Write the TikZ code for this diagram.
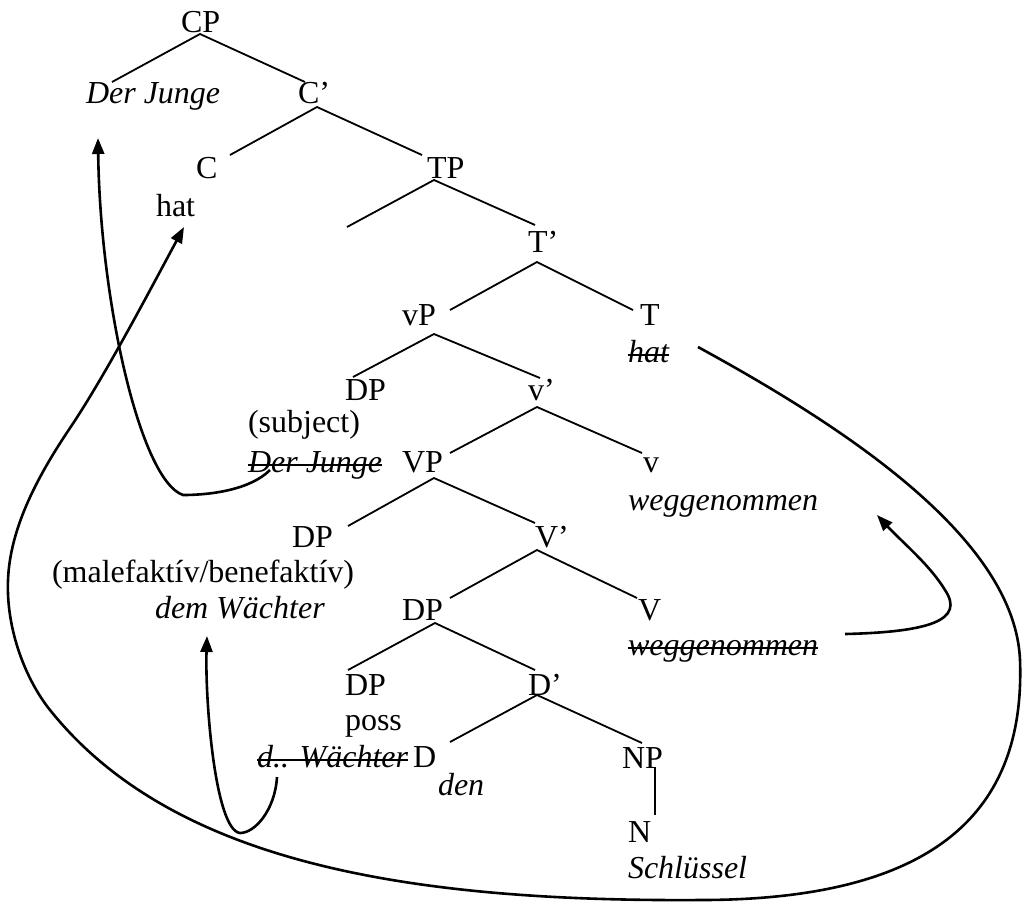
\documentclass[tikz,border=0pt]{standalone}
\usepackage{fontspec}
\setmainfont{Liberation Serif}
\usetikzlibrary{arrows.meta,calc}

\begin{document}
\begin{tikzpicture}[x=0.5pt, y=-0.5pt,
  font=\fontsize{16}{19}\selectfont,
  lbl/.style={inner sep=0pt, outer sep=0pt, anchor=base west},
  it/.style={lbl, font=\fontsize{16}{19}\selectfont\itshape},
  branch/.style={line width=0.9pt},
  strike/.style={line width=0.95pt},
  move/.style={line width=1.3pt, -{Triangle[length=8pt, width=6pt]}}]

\useasboundingbox (0,0) rectangle (1022,902);

% a horizontal stroke through a node's text, a little above its baseline
\newcommand\strikenode[1]{%
  \draw[strike] ($(#1.base west)+(0,-7)$) -- ($(#1.base east)+(0,-7)$);}

% ---- labels of the tree ----
\node[lbl] (CP)    at (181,32)  {CP};
\node[it]  (spec)  at (86,103)  {Der Junge};
\node[lbl] (Cbar)  at (298,103) {C’};
\node[lbl] (C)     at (196,178) {C};
\node[lbl] (TP)    at (427,178) {TP};
\node[lbl] (hat)   at (156,216) {hat};
\node[lbl] (Tbar)  at (528,252) {T’};
\node[lbl] (vP)    at (402,325) {vP};
\node[lbl] (T)     at (640,325) {T};
\node[it]  (hatT)  at (628,362) {hat};
\node[lbl] (DPs)   at (345,400) {DP};
\node[lbl] (vbar)  at (528,400) {v’};
\node[lbl] (subj)  at (248,432) {(subject)};
\node[it]  (subjT) at (248,472) {Der Junge};
\node[lbl] (VP)    at (402,472) {VP};
\node[lbl] (v)     at (643,472) {v};
\node[it]  (wegv)  at (628,510) {weggenommen};
\node[lbl] (DPm)   at (292,547) {DP};
\node[lbl] (Vbar)  at (535,547) {V’};
\node[lbl] (male)  at (52,582)  {(malefaktív/benefaktív)};
\node[it]  (dem)   at (155,618) {dem Wächter};
\node[lbl] (DPo)   at (402,620) {DP};
\node[lbl] (V)     at (638,620) {V};
\node[it]  (wegT)  at (628,655) {weggenommen};
\node[lbl] (DPp)   at (345,695) {DP};
\node[lbl] (Dbar)  at (528,695) {D’};
\node[lbl] (poss)  at (345,730) {poss};
\node[it]  (possT) at (257,767) {d.. Wächter};
\node[lbl] (D)     at (413,767) {D};
\node[lbl] (NP)    at (622,768) {NP};
\node[it]  (den)   at (438,795) {den};
\node[lbl] (N)     at (628,842) {N};
\node[it]  (key)   at (628,878) {Schlüssel};

% struck-out copies left behind by movement
\strikenode{hatT}
\strikenode{subjT}
\strikenode{wegT}
\strikenode{possT}

% ---- branch end points ----
\coordinate (CP-b)   at (200,34);
\coordinate (spec-t) at (112,82);
\coordinate (Cbar-t) at (305,82);
\coordinate (Cbar-b) at (317,107);
\coordinate (C-t)    at (230,155);
\coordinate (TP-t)   at (422,155);
\coordinate (TP-b)   at (434,180);
\coordinate (specT)  at (347,227);
\coordinate (Tbar-t) at (535,225);
\coordinate (Tbar-b) at (537,262);
\coordinate (vP-t)   at (450,310);
\coordinate (T-t)    at (633,310);
\coordinate (vP-b)   at (434,334);
\coordinate (DPs-t)  at (353,377);
\coordinate (vbar-t) at (540,378);
\coordinate (vbar-b) at (537,407);
\coordinate (VP-t)   at (450,453);
\coordinate (v-t)    at (642,453);
\coordinate (VP-b)   at (434,478);
\coordinate (DPm-t)  at (348,526);
\coordinate (Vbar-t) at (535,523);
\coordinate (Vbar-b) at (537,550);
\coordinate (DPo-t)  at (450,598);
\coordinate (V-t)    at (637,598);
\coordinate (DPo-b)  at (435,623);
\coordinate (DPp-t)  at (348,670);
\coordinate (Dbar-t) at (535,670);
\coordinate (Dbar-b) at (537,695);
\coordinate (D-t)    at (450,742);
\coordinate (NP-t)   at (642,743);
\coordinate (NP-b)   at (655,767);
\coordinate (N-t)    at (655,815);

% ---- branches ----
\draw[branch] (spec-t) -- (CP-b) -- (Cbar-t);
\draw[branch] (C-t) -- (Cbar-b) -- (TP-t);
\draw[branch] (specT) -- (TP-b) -- (Tbar-t);
\draw[branch] (vP-t) -- (Tbar-b) -- (T-t);
\draw[branch] (DPs-t) -- (vP-b) -- (vbar-t);
\draw[branch] (VP-t) -- (vbar-b) -- (v-t);
\draw[branch] (DPm-t) -- (VP-b) -- (Vbar-t);
\draw[branch] (DPo-t) -- (Vbar-b) -- (V-t);
\draw[branch] (DPp-t) -- (DPo-b) -- (Dbar-t);
\draw[branch] (D-t) -- (Dbar-b) -- (NP-t);
\draw[branch] (NP-b) -- (N-t);

% ---- movement arrows ----
% subject: Spec,vP -> Spec,CP
\coordinate (m1s) at (270,470);
\coordinate (m1e) at (98,138);
\draw[move] (m1s) .. controls (250,490) and (210,495) .. (183,495)
                  .. controls (140,480) and (100,300) .. (m1e);

% auxiliary: T -> C
\coordinate (m2s) at (698,347);
\coordinate (m2e) at (184,227);
\draw[move] (m2s) .. controls (850,430) and (1015,540) .. (1020,660)
                  .. controls (1025,800) and (950,900) .. (700,900)
                  .. controls (400,902) and (170,860) .. (50,710)
                  .. controls (26,680) and (6,630) .. (8,580)
                  .. controls (10,530) and (35,480) .. (70,428)
                  .. controls (105,376) and (150,290) .. (m2e);

% possessor raising
\coordinate (m3s) at (277,777);
\coordinate (m3e) at (207,636);
\draw[move] (m3s) .. controls (275,810) and (255,833) .. (240,833)
                  .. controls (215,830) and (205,700) .. (m3e);

% verb: V -> v
\coordinate (m4s) at (845,634);
\coordinate (m4e) at (877,515);
\draw[move] (m4s) .. controls (930,632) and (965,620) .. (945,590)
                  .. controls (930,565) and (900,540) .. (m4e);
\end{tikzpicture}
\end{document}
